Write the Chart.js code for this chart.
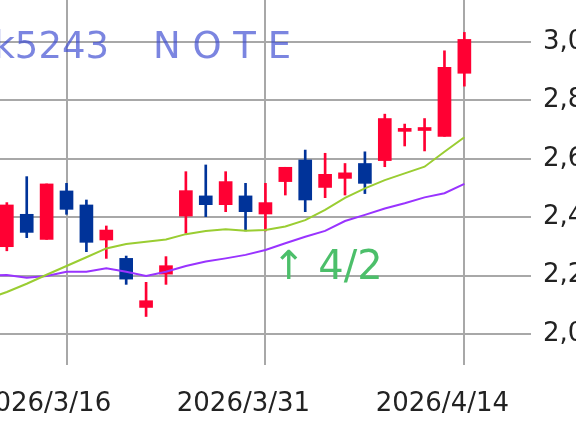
<!DOCTYPE html>
<html>
<head>
<meta charset="utf-8">
<script src="https://cdn.jsdelivr.net/npm/chart.js@4"></script>
<style>
  html, body { margin: 0; padding: 0; background: #fff; overflow: hidden; }
  #wrap { position: relative; width: 576px; height: 430px; overflow: hidden; }
  #chart { position: absolute; left: -23px; top: 0; }
</style>
</head>
<body>
<div id="wrap"><canvas id="chart" width="644" height="430"></canvas></div>
<script>
// daily candles (trading days only)
const dates = [
  "2026/3/10", "2026/3/11", "2026/3/12", "2026/3/13", "2026/3/16", "2026/3/17",
  "2026/3/18", "2026/3/19", "2026/3/23", "2026/3/24", "2026/3/25", "2026/3/26",
  "2026/3/27", "2026/3/30", "2026/3/31", "2026/4/1", "2026/4/2", "2026/4/3",
  "2026/4/6", "2026/4/7", "2026/4/8", "2026/4/9", "2026/4/10", "2026/4/13", "2026/4/14"
];
const open  = [2300, 2299, 2410, 2324, 2490, 2442, 2322, 2259, 2091, 2205, 2404, 2473, 2443, 2473, 2411, 2522, 2596, 2502, 2533, 2584, 2594, 2694, 2697, 2677, 2893];
const close = [2270, 2442, 2348, 2514, 2427, 2314, 2356, 2188, 2114, 2234, 2491, 2443, 2522, 2419, 2450, 2571, 2459, 2547, 2552, 2516, 2738, 2700, 2707, 2913, 3009];
const high  = [2330, 2450, 2539, 2514, 2516, 2459, 2370, 2267, 2177, 2265, 2556, 2579, 2556, 2516, 2516, 2571, 2630, 2619, 2584, 2624, 2753, 2719, 2738, 2970, 3033];
const low   = [2250, 2285, 2330, 2324, 2410, 2282, 2259, 2170, 2060, 2170, 2345, 2402, 2419, 2353, 2353, 2476, 2419, 2467, 2476, 2481, 2573, 2644, 2627, 2677, 2849];

// moving averages
const maShort = [2120, 2144, 2172, 2203, 2233, 2263, 2293, 2308, 2316, 2324, 2342, 2353, 2359, 2354, 2356, 2368, 2390, 2425, 2466, 2499, 2527, 2550, 2573, 2624, 2674];
const maLong  = [2200, 2202, 2193, 2199, 2213, 2213, 2225, 2213, 2199, 2213, 2233, 2248, 2259, 2271, 2288, 2311, 2333, 2353, 2387, 2408, 2430, 2448, 2468, 2482, 2514];

const tickDates = ["2026/3/16", "2026/3/31", "2026/4/14"];
const priceTicks = [2000, 2200, 2400, 2600, 2800, 3000];

const UP = "#ff0033";
const DOWN = "#003399";
const GRID = "#a8a8a8";
const FONT = "'DejaVu Sans', Verdana, sans-serif";

const candleColor = dates.map((d, i) => close[i] >= open[i] ? UP : DOWN);

// watermark and note text
const labelsPlugin = {
  id: "labels",
  beforeDatasetsDraw(chart) {
    const c = chart.ctx;
    c.save();
    c.textBaseline = "alphabetic";
    c.font = "37px " + FONT;
    c.fillStyle = "rgba(60,75,210,0.68)";
    c.textAlign = "right";
    c.fillText("Stock5243", 132, 58);
    c.textAlign = "left";
    c.fillText("N O T E", 176, 58);
    c.font = "40px " + FONT;
    c.fillStyle = "#4cbf6a";
    c.fillText("\u2191 4/2", 295, 279);
    c.restore();
  }
};

new Chart(document.getElementById("chart"), {
  type: "bar",
  data: {
    datasets: [
      {
        type: "line",
        data: maShort.map((v, i) => ({ x: i, y: v })),
        borderColor: "#9acd32",
        borderWidth: 2,
        pointRadius: 0,
        tension: 0,
        order: 0
      },
      {
        type: "line",
        data: maLong.map((v, i) => ({ x: i, y: v })),
        borderColor: "#9933ff",
        borderWidth: 2,
        pointRadius: 0,
        tension: 0,
        order: 0
      },
      {
        data: low.map((v, i) => ({ x: i, y: [v, high[i]] })),
        backgroundColor: candleColor,
        barThickness: 2,
        grouped: false,
        order: 2
      },
      {
        data: open.map((v, i) => ({ x: i, y: [v, close[i]] })),
        backgroundColor: candleColor,
        barThickness: 13,
        minBarLength: 3,
        grouped: false,
        order: 1
      }
    ]
  },
  options: {
    responsive: false,
    animation: false,
    layout: { padding: 0 },
    plugins: { legend: { display: false }, tooltip: { enabled: false } },
    scales: {
      x: {
        type: "linear",
        min: -0.5,
        max: 27.35,
        offset: false,
        grid: { color: GRID, lineWidth: 2, tickLength: 31, offset: false },
        border: { display: false },
        ticks: {
          font: { family: FONT, size: 26 },
          color: "#222",
          labelOffset: -22,
          padding: 24,
          maxRotation: 0,
          autoSkip: false,
          callback: v => dates[v]
        },
        afterBuildTicks: s => { s.ticks = tickDates.map(d => ({ value: dates.indexOf(d) })); },
        afterFit: s => { s.height = 96; s.paddingLeft = 0; s.paddingRight = 0; }
      },
      y: {
        position: "right",
        min: 2000,
        max: 3144,
        grid: { color: GRID, lineWidth: 2, drawTicks: false },
        border: { display: false },
        ticks: {
          font: { family: FONT, size: 26 },
          color: "#222",
          padding: 12,
          callback: v => v.toLocaleString("en-US")
        },
        afterBuildTicks: s => { s.ticks = priceTicks.map(v => ({ value: v })); },
        afterFit: s => { s.width = 90; s.paddingTop = 0; s.paddingBottom = 0; }
      }
    }
  },
  plugins: [labelsPlugin]
});
</script>
</body>
</html>
